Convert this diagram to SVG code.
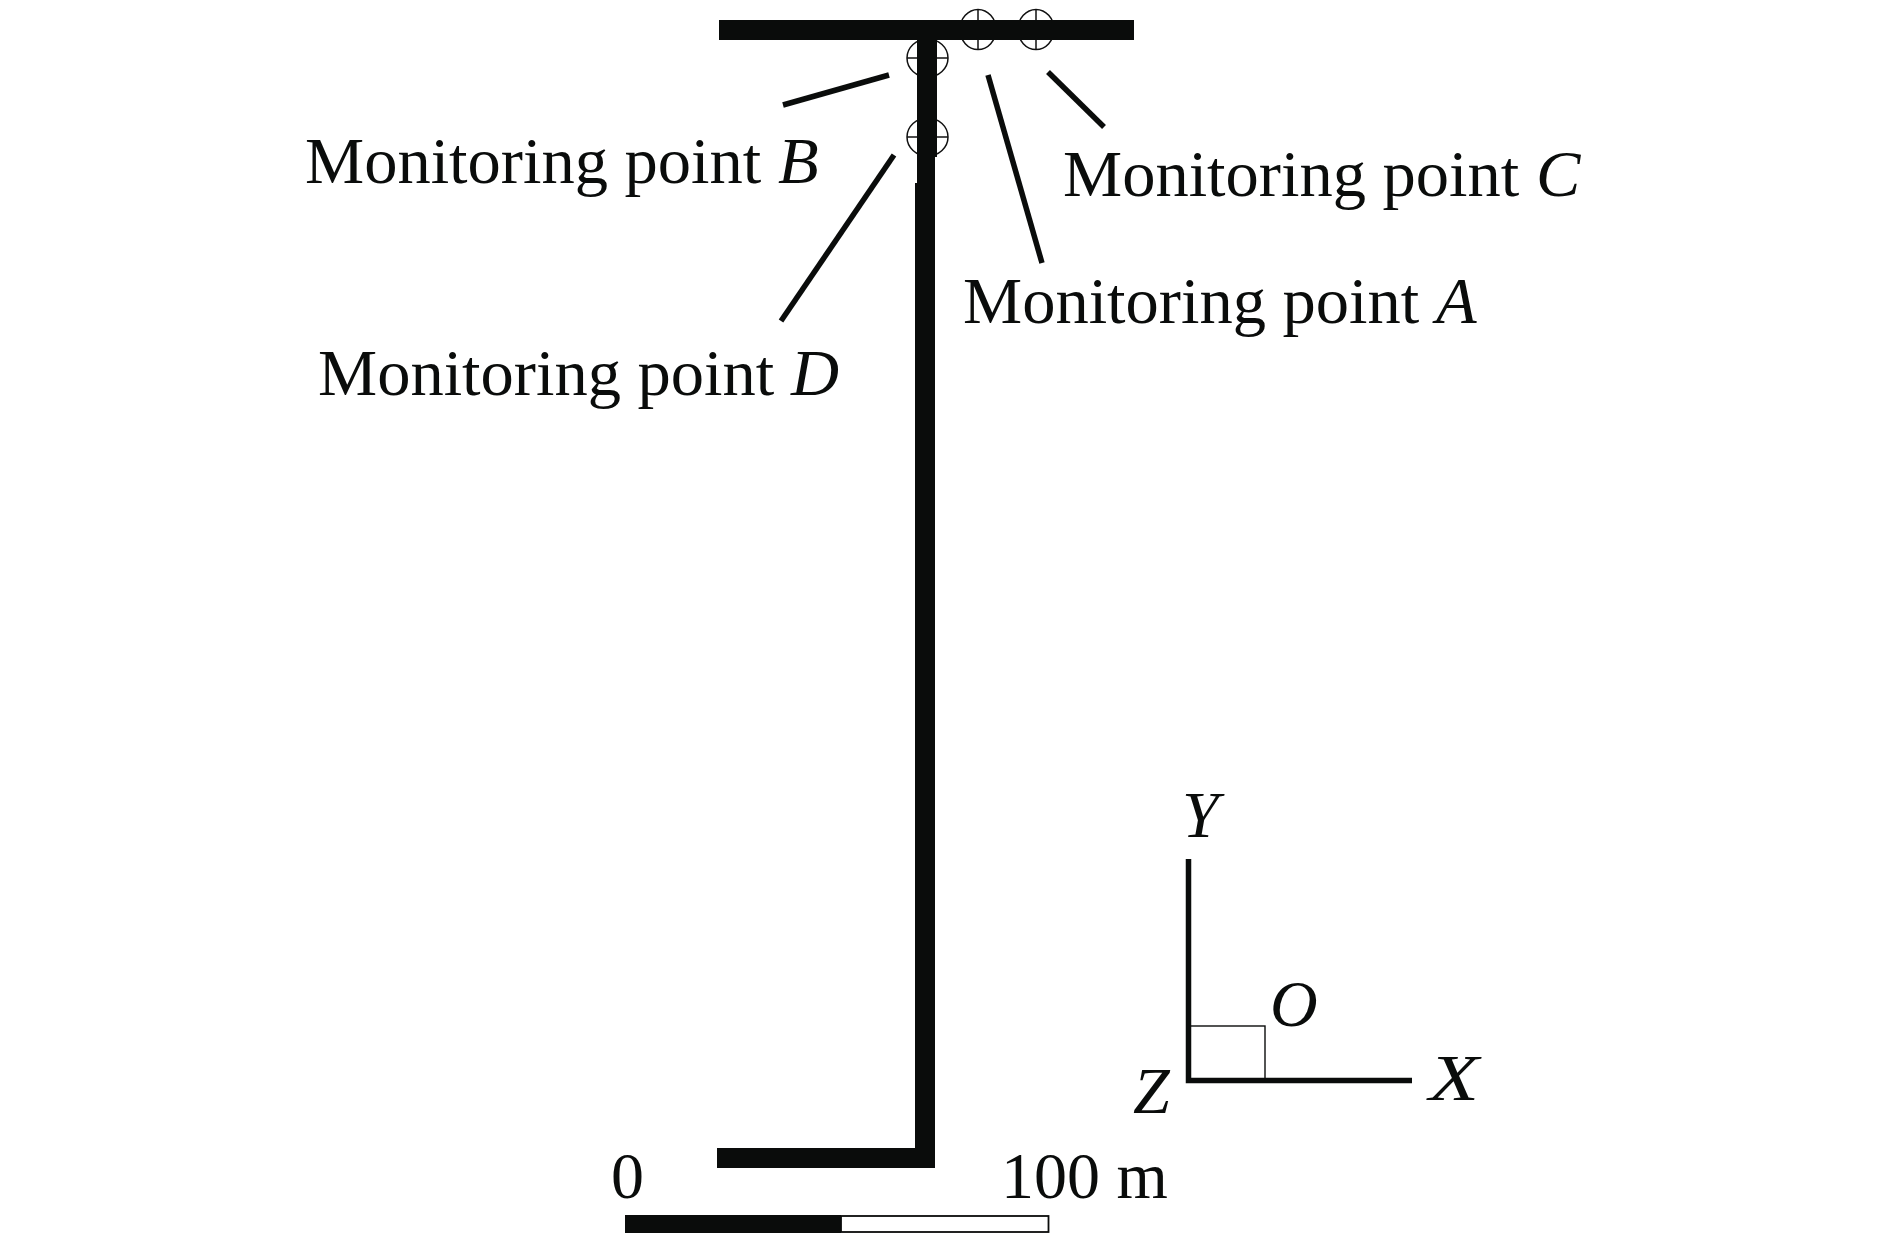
<svg xmlns="http://www.w3.org/2000/svg" width="1890" height="1238" viewBox="0 0 1890 1238">
<style>
text{font-family:"Liberation Serif","Times New Roman",serif;font-size:66px;fill:#0a0c0b}
.m{font-size:66.5px}
.i{font-style:italic}
.solid{fill:#0a0c0b}
.lead{stroke:#0a0c0b;stroke-width:5.5;fill:none}
.mp ellipse{fill:none;stroke:#111;stroke-width:1.5}
.mp path{stroke:#111;stroke-width:1.5;fill:none}
</style>
<rect width="1890" height="1238" fill="#fff"/>
<g id="point-a" class="mp"><ellipse cx="978" cy="29.5" rx="18" ry="20"/><path d="M960 29.5H996M978 9.5V49.5"/></g>
<g id="point-c" class="mp"><ellipse cx="1036" cy="29.5" rx="18" ry="20"/><path d="M1018 29.5H1054M1036 9.5V49.5"/></g>
<g id="point-b" class="mp"><ellipse cx="927.5" cy="58" rx="20.5" ry="19"/><path d="M907 58H948"/></g>
<g id="point-d" class="mp"><ellipse cx="927.5" cy="137" rx="20.5" ry="19"/><path d="M907 137H948"/></g>
<g id="structure">
<rect class="solid" x="719" y="20" width="415" height="20"/>
<rect class="solid" x="917" y="30" width="20" height="127"/>
<rect class="solid" x="917" y="157" width="18" height="26"/>
<rect class="solid" x="915" y="183" width="20" height="985"/>
<rect class="solid" x="717" y="1148" width="218" height="20"/>
</g>
<g id="connectors">
<path class="lead" d="M783 105L889 75"/>
<path class="lead" d="M781 321L894 155"/>
<path class="lead" d="M988 75L1042 263"/>
<path class="lead" d="M1048 72L1104 127"/>
</g>
<g id="labels">
<text class="m" x="305" y="183">Monitoring point <tspan class="i">B</tspan></text>
<text class="m" x="318" y="395">Monitoring point <tspan class="i">D</tspan></text>
<text class="m" x="1063" y="196">Monitoring point <tspan class="i">C</tspan></text>
<text class="m" x="963" y="323">Monitoring point <tspan class="i">A</tspan></text>
</g>
<g id="axes">
<path d="M1188.5 859V1080.5H1412" fill="none" stroke="#0a0c0b" stroke-width="5.5"/>
<rect x="1190" y="1026" width="75" height="53" fill="none" stroke="#0a0c0b" stroke-width="1.4"/>
<text class="i" x="1182" y="837">Y</text>
<text class="i" x="1270" y="1026">O</text>
<text class="i" x="1429" y="1100" textLength="50" lengthAdjust="spacingAndGlyphs">X</text>
<text class="i" x="1133" y="1113">Z</text>
</g>
<g id="scale">
<rect class="solid" x="625" y="1215" width="216" height="18"/>
<rect x="841" y="1216" width="207.5" height="16" fill="#fff" stroke="#0a0c0b" stroke-width="1.8"/>
<text x="611" y="1198">0</text>
<text x="1001" y="1198">100 m</text>
</g>
</svg>
